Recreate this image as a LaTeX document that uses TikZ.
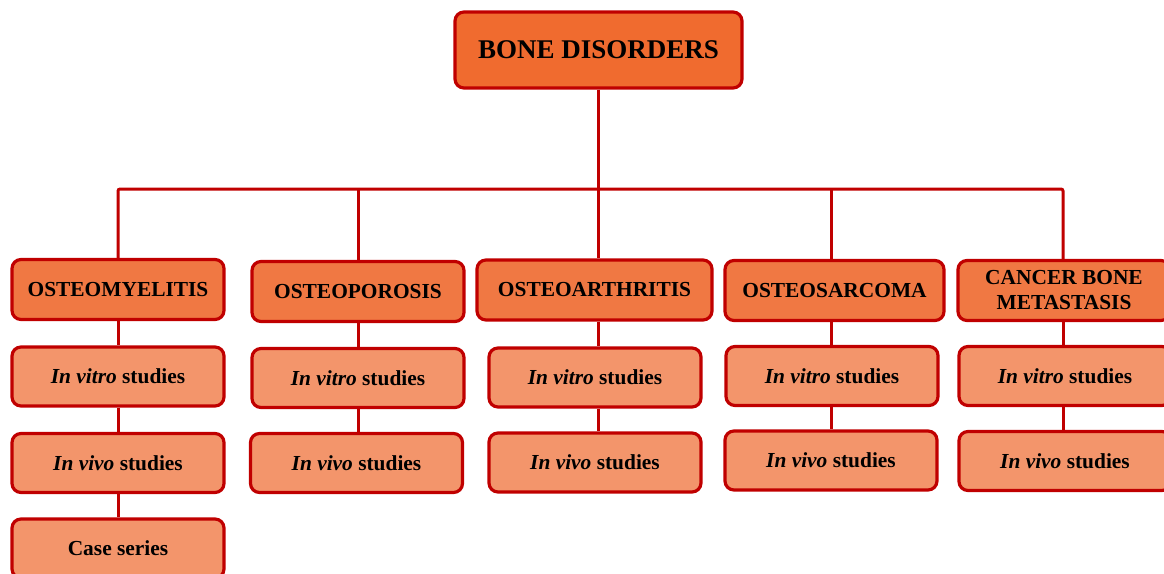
\documentclass[tikz,border=0pt]{standalone}
\usepackage{fontspec}
\setmainfont{Liberation Serif}
\definecolor{bordred}{HTML}{C00000}
\definecolor{topfill}{HTML}{F06B2F}
\definecolor{lonefill}{HTML}{F07843}
\definecolor{ltwofill}{HTML}{F3956B}
\tikzset{
  x=1pt, y=-1pt,
  basebox/.style={draw=bordred, line width=3.2pt, rounded corners=9pt, align=center, inner sep=0pt},
  topbox/.style={basebox, fill=topfill, minimum width=287pt, minimum height=76pt, font=\fontsize{27}{30}\selectfont\bfseries},
  catbox/.style={basebox, fill=lonefill, minimum height=60pt, font=\fontsize{21.4}{25}\selectfont\bfseries},
  subbox/.style={basebox, fill=ltwofill, minimum width=212pt, minimum height=59pt, font=\fontsize{21.4}{25}\selectfont\bfseries},
  link/.style={draw=bordred, line width=3pt},
}
\newcommand{\invitro}{\textit{In vitro} studies}
\newcommand{\invivo}{\textit{In vivo} studies}
\begin{document}
\begin{tikzpicture}
\useasboundingbox (0,0) rectangle (1164,573);
\clip (0,0) rectangle (1164,573);
% column coordinates on the bus
\coordinate (k1) at (118,189);
\coordinate (k2) at (358,189);
\coordinate (k3) at (598,189);
\coordinate (k4) at (831,189);
\coordinate (k5) at (1063,189);

\node[topbox] (top) at (598.5,50) {BONE DISORDERS};

\node[catbox, minimum width=212pt] (c1) at (118,289.5) {OSTEOMYELITIS};
\node[catbox, minimum width=212pt] (c2) at (358,291.5) {OSTEOPOROSIS};
\node[catbox, minimum width=235pt] (c3) at (594.5,290) {OSTEOARTHRITIS};
\node[catbox, minimum width=219pt] (c4) at (834.5,290.5) {OSTEOSARCOMA};
\node[catbox, minimum width=212pt] (c5) at (1064,290.5) {CANCER BONE\\METASTASIS};

\node[subbox] (v1) at (118,376.5) {\invitro};
\node[subbox] (v2) at (358,378) {\invitro};
\node[subbox] (v3) at (595,377.5) {\invitro};
\node[subbox] (v4) at (832,376) {\invitro};
\node[subbox] (v5) at (1065,376) {\invitro};

\node[subbox] (w1) at (118,463) {\invivo};
\node[subbox] (w2) at (356.5,463) {\invivo};
\node[subbox] (w3) at (595,462.5) {\invivo};
\node[subbox] (w4) at (831,460.5) {\invivo};
\node[subbox] (w5) at (1065,461) {\invivo};

\node[subbox] (cs) at (118,548.5) {Case series};

% connectors
\draw[link] (top.south -| k3) -- (k3);
\draw[link, rounded corners=2pt] (k1 |- c1.north) -- (k1) -- (k5) -- (k5 |- c5.north);
\draw[link] (k2) -- (k2 |- c2.north);
\draw[link] (k3) -- (k3 |- c3.north);
\draw[link] (k4) -- (k4 |- c4.north);

\draw[link] (c1.south -| k1) -- (v1.north -| k1);
\draw[link] (v1.south -| k1) -- (w1.north -| k1);
\draw[link] (w1.south -| k1) -- (cs.north -| k1);

\draw[link] (c2.south -| k2) -- (v2.north -| k2);
\draw[link] (v2.south -| k2) -- (w2.north -| k2);

\draw[link] (c3.south -| k3) -- (v3.north -| k3);
\draw[link] (v3.south -| k3) -- (w3.north -| k3);

\draw[link] (c4.south -| k4) -- (v4.north -| k4);
\draw[link] (v4.south -| k4) -- (w4.north -| k4);

\draw[link] (c5.south -| k5) -- (v5.north -| k5);
\draw[link] (v5.south -| k5) -- (w5.north -| k5);
\end{tikzpicture}
\end{document}
